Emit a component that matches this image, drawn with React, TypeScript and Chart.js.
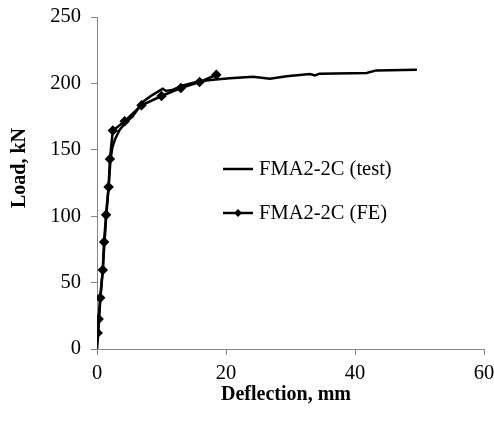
import React, { useEffect, useRef } from "react";
import { Chart, registerables } from "chart.js";

Chart.register(...registerables);

const testX = [0, 0.2, 0.35, 0.55, 0.9, 1.15, 1.45, 1.8, 2.1, 2.4, 2.8, 3.5, 4.5, 5.5, 7.1, 8.5, 10.2, 10.7, 11.8, 13.3, 15.9, 18, 20.6, 24.2, 26.8, 29.4, 33, 33.8, 34.5, 41.8, 43.3, 49.6];
const testY = [0, 12, 25, 40, 60, 80, 101, 122, 143, 152, 158, 165, 171, 175, 186, 191, 196, 194.3, 195.3, 198.5, 201.6, 202.8, 203.8, 205, 203.5, 205.3, 207, 206, 207.3, 207.8, 209.8, 210.3];

const feX = [0.1, 0.25, 0.5, 0.9, 1.1, 1.4, 1.8, 2.0, 2.45, 4.3, 6.9, 10, 13, 15.9, 18.5];
const feY = [12, 22.5, 38.5, 59.5, 80.5, 101, 122, 143, 164.5, 171.5, 183.5, 190.5, 196.5, 201, 206.5];

const seriesNames = ["FMA2-2C (test)", "FMA2-2C (FE)"];
const xTitle = "Deflection, mm";
const yTitle = "Load, kN";

const FONT = "'Liberation Serif', 'Times New Roman', serif";

const overlayPlugin = {
  id: "overlay",
  afterDraw(chart: any) {
    const ctx = chart.ctx;
    ctx.save();
    ctx.fillStyle = "#000";
    ctx.font = `bold 20px ${FONT}`;
    ctx.textAlign = "center";
    ctx.textBaseline = "middle";
    ctx.fillText(xTitle, 286, 395);
    ctx.save();
    ctx.translate(20, 168);
    ctx.rotate(-Math.PI / 2);
    ctx.fillText(yTitle, 0, 0);
    ctx.restore();
    ctx.font = `20.5px ${FONT}`;
    ctx.textAlign = "left";
    const rows = [169, 213];
    rows.forEach((y, i) => {
      ctx.strokeStyle = "#000";
      ctx.lineWidth = 2.5;
      ctx.beginPath();
      ctx.moveTo(223, y);
      ctx.lineTo(253, y);
      ctx.stroke();
      if (i === 1) {
        ctx.beginPath();
        ctx.moveTo(238, y - 4);
        ctx.lineTo(242, y);
        ctx.lineTo(238, y + 4);
        ctx.lineTo(234, y);
        ctx.closePath();
        ctx.fill();
      }
      ctx.fillText(seriesNames[i], 259, y + 1);
    });
    ctx.restore();
  },
};

export default function App() {
  const ref = useRef<HTMLCanvasElement>(null);
  useEffect(() => {
    const chart = new Chart(ref.current!, {
      type: "line",
      data: {
        datasets: [
          {
            label: seriesNames[0],
            data: testX.map((x, i) => ({ x, y: testY[i] })),
            borderColor: "#000",
            borderWidth: 2.5,
            pointRadius: 0,
            tension: 0,
          },
          {
            label: seriesNames[1],
            data: feX.map((x, i) => ({ x, y: feY[i] })),
            borderColor: "#000",
            backgroundColor: "#000",
            borderWidth: 2.5,
            pointStyle: "rectRot",
            pointRadius: 3.5,
            tension: 0,
          },
        ],
      },
      options: {
        animation: false,
        responsive: false,
        layout: { padding: { top: 17, right: 10, left: 0, bottom: 0 } },
        plugins: { legend: { display: false }, tooltip: { enabled: false } },
        scales: {
          x: {
            type: "linear",
            min: 0,
            max: 60,
            ticks: { stepSize: 20, color: "#000", font: { family: FONT, size: 20.5 }, padding: 6 },
            grid: { drawOnChartArea: false, drawTicks: true, tickLength: 6, color: "#868686" },
            border: { color: "#868686", width: 1 },
            afterFit: (s: any) => { s.height = 77; s.paddingRight = 0; s.paddingLeft = 0; },
          },
          y: {
            min: 0,
            max: 250,
            ticks: { stepSize: 50, color: "#000", font: { family: FONT, size: 20.5 }, padding: 10 },
            grid: { drawOnChartArea: false, drawTicks: true, tickLength: 6, color: "#868686" },
            border: { color: "#868686", width: 1 },
            afterFit: (s: any) => { s.width = 97; s.paddingTop = 0; s.paddingBottom = 0; },
          },
        },
      },
      plugins: [overlayPlugin],
    });
    return () => chart.destroy();
  }, []);
  return (
    <div style={{ position: "absolute", left: 0, top: 0, width: 494, height: 426, background: "#fff" }}>
      <canvas ref={ref} width={494} height={426} />
    </div>
  );
}
